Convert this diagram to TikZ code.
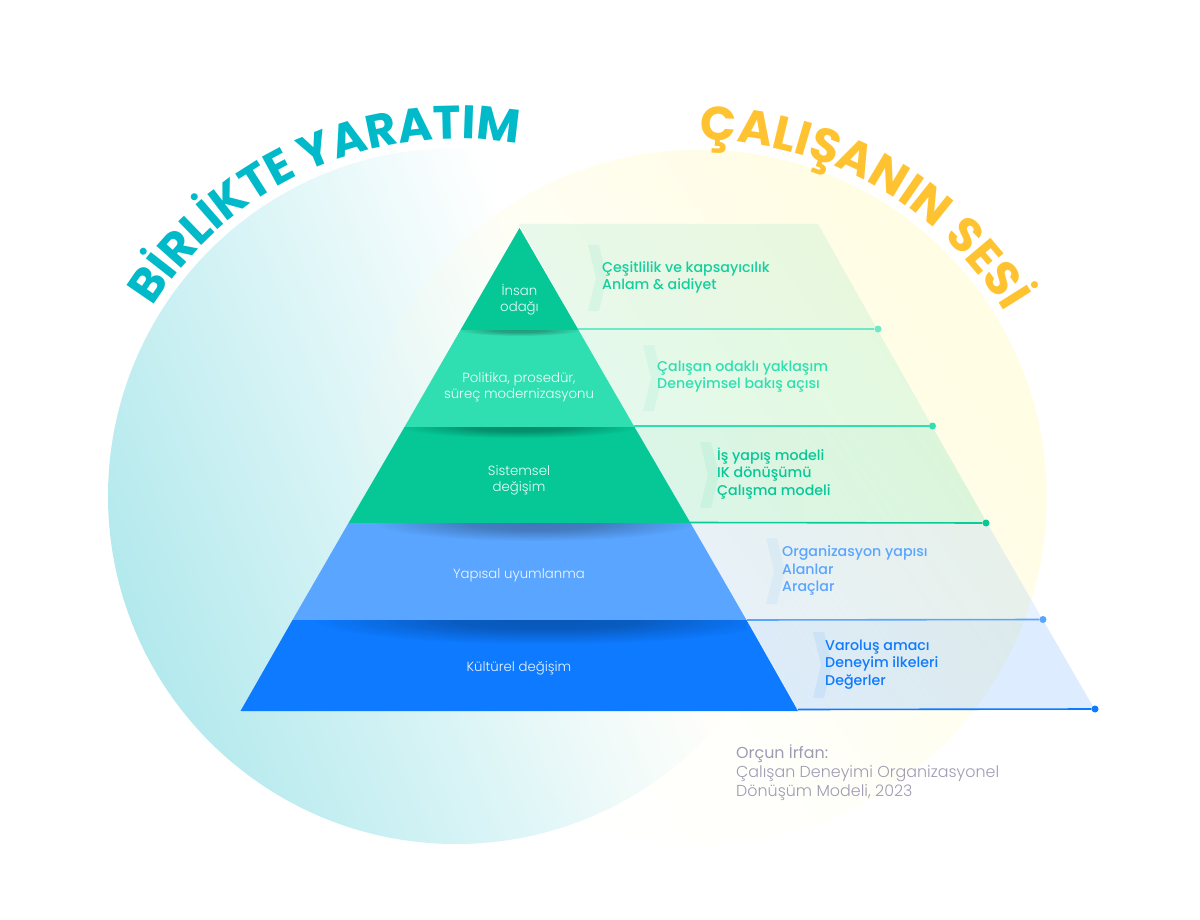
\documentclass[tikz,border=0pt]{standalone}
\usepackage{fontspec}
\setmainfont{Poppins}
\newfontfamily\popl{Poppins Light}
\newfontfamily\popm{Poppins Medium}
\usetikzlibrary{fadings,decorations.text}
\pgfdeclarehorizontalshading{sfade}{100bp}{color(0bp)=(pgftransparent!100);color(25bp)=(pgftransparent!100);color(45bp)=(pgftransparent!82);color(58bp)=(pgftransparent!35);color(70bp)=(pgftransparent!0);color(100bp)=(pgftransparent!0)}
\pgfdeclarefading{sidefadeY}{\pgfuseshading{sfade}}
\pgfdeclareradialshading{shr}{\pgfpointorigin}{color(0bp)=(pgftransparent!0);color(10bp)=(pgftransparent!12);color(25bp)=(pgftransparent!100);color(50bp)=(pgftransparent!100)}
\pgfdeclarefading{shfade}{\pgfuseshading{shr}}
\definecolor{tealC}{HTML}{00BAC9}
\definecolor{tealS}{HTML}{B3E9ED}
\definecolor{yellC}{HTML}{FFC331}
\definecolor{yellS}{HTML}{FFFDE4}
\definecolor{gA}{HTML}{06C896}
\definecolor{gB}{HTML}{30DFB1}
\definecolor{bA}{HTML}{5AA5FF}
\definecolor{bB}{HTML}{0D7AFF}
\definecolor{gL}{HTML}{6EE8C8}
\definecolor{credit}{HTML}{9E9BB3}
\pgfdeclarehorizontalshading{tealfade}{100bp}{color(0bp)=(tealS);color(25bp)=(tealS);color(61bp)=(white);color(100bp)=(white)}
\tikzset{
  x=1pt,y=-1pt,
  chev/.style={fill opacity=.08},
  lvl/.style={font=\popl\fontsize{13.3}{16}\selectfont,text=white,align=center,inner sep=0,text opacity=.92},
  info/.style={font=\popm\fontsize{14.2}{17.2}\selectfont,align=left,anchor=west,inner sep=0},
  credittxt/.style={font=\popl\fontsize{15.9}{19}\selectfont,text=credit,align=left,anchor=north west,inner sep=0},
  conn/.style={line width=1.6pt},
  dot/.style={circle,inner sep=0,minimum size=7pt},
  shadow/.style={fill=black,path fading=shfade},
}
\begin{document}
\begin{tikzpicture}
\useasboundingbox (0,0) rectangle (1200,920);
% circles
\shade[shading=tealfade,shading angle=22] (456,496) circle[radius=348];
\fill[yellS,path fading=sidefadeY,fading angle=35] (699,497) circle[radius=348];
% right side bands
\fill[gA,fill opacity=.09] (519,224) -- (818,224) -- (877,329) -- (578,329) -- cycle;
\fill[gB,fill opacity=.13] (578,329) -- (877,329) -- (932,426) -- (634,426) -- cycle;
\fill[gA,fill opacity=.14] (634,426) -- (932,426) -- (987,523) -- (690,523) -- cycle;
\fill[bA,fill opacity=.14] (690,523) -- (987,523) -- (1043,620) -- (747,620) -- cycle;
\fill[bB,fill opacity=.14] (747,620) -- (1043,620) -- (1095,710) -- (798,710) -- cycle;
% chevrons
\def\chevron#1#2#3{\fill[#3,chev] (#1,#2) -- ++(11,0) -- ++(8,33) -- ++(-8,33) -- ++(-11,0) -- ++(8,-33) -- cycle;}
\chevron{588}{245}{gA}
\chevron{643}{345}{gB}
\chevron{700}{442}{gA}
\chevron{766}{538}{bA}
\chevron{813}{632}{bB}
% pyramid
\fill[gA] (519.5,228) -- (578.5,330) -- (460.5,330) -- cycle;
\fill[gB] (460.5,330) -- (578.5,330) -- (634.5,427) -- (404.5,427) -- cycle;
\fill[gA] (404.5,427) -- (634.5,427) -- (690.5,523) -- (348.5,523) -- cycle;
\fill[bA] (348.5,523) -- (690.5,523) -- (746.5,620) -- (292.5,620) -- cycle;
\fill[bB] (292.5,620) -- (746.5,620) -- (798,711) -- (240.5,711) -- cycle;
% shadows under the steps
\begin{scope}\clip (460.5,330) rectangle (578.5,345);
\fill[shadow,fill opacity=.3] (519.5,330) ellipse[x radius=62,y radius=6];\end{scope}
\begin{scope}\clip (404.5,427) rectangle (634.5,445);
\fill[shadow,fill opacity=.3] (519.5,427) ellipse[x radius=118,y radius=11];\end{scope}
\begin{scope}\clip (348.5,523) rectangle (690.5,550);
\fill[shadow,fill opacity=.28] (535,523) ellipse[x radius=160,y radius=18];\end{scope}
\begin{scope}\clip (292.5,620) rectangle (746.5,650);
\fill[shadow,fill opacity=.28] (545,620) ellipse[x radius=230,y radius=24];\end{scope}
% connectors
\coordinate (s1) at (578,329); \node[dot,fill=gL] (d1) at (878,329) {};
\coordinate (s2) at (634,426); \node[dot,fill=gB] (d2) at (932.5,426) {};
\coordinate (s3) at (690,522.5); \node[dot,fill=gA] (d3) at (986,523) {};
\coordinate (s4) at (747,620); \node[dot,fill=bA] (d4) at (1043,619.5) {};
\coordinate (s5) at (798,709.5); \node[dot,fill=bB] (d5) at (1095,709) {};
\draw[conn,gL] (s1) -- (d1);
\draw[conn,gB] (s2) -- (d2);
\draw[conn,gA!85!gB] (s3) -- (d3);
\draw[conn,bA] (s4) -- (d4);
\draw[conn,bB] (s5) -- (d5);
% level labels
\node[lvl] (l1) at (519.5,299.5) {İnsan\\odağı};
\node[lvl] (l2) at (519,387) {Politika, prosedür,\\süreç modernizasyonu};
\node[lvl] (l3) at (519,480) {Sistemsel\\değişim};
\node[lvl] (l4) at (519,575.5) {Yapısal uyumlanma};
\node[lvl] (l5) at (519,668.5) {Kültürel değişim};
% info labels
\node[info,text=gA!70!gB] (i1) at (602,277) {Çeşitlilik ve kapsayıcılık\\Anlam \& aidiyet};
\node[info,text=gB] (i2) at (657,376.5) {Çalışan odaklı yaklaşım\\Deneyimsel bakış açısı};
\node[info,text=gA] (i3) at (717,473.5) {İş yapış modeli\\IK dönüşümü\\Çalışma modeli};
\node[info,text=bA] (i4) at (782,570.5) {Organizasyon yapısı\\Alanlar\\Araçlar};
\node[info,text=bB] (i5) at (825,664.5) {Varoluş amacı\\Deneyim ilkeleri\\Değerler};
% credit
\node[credittxt] (c) at (736,745) {{\fontspec{Poppins}Orçun İrfan:}\\Çalışan Deneyimi Organizasyonel\\Dönüşüm Modeli, 2023};
% curved titles
\path[postaction={decorate,decoration={text along path,text align=center,
  text={|\bfseries\fontsize{47}{47}\selectfont\color{tealC}|BİRLİKTE YARATIM}}}]
  (456,496) ++(-151:357) arc[start angle=-151,end angle=-77,radius=357];
\path[postaction={decorate,decoration={text along path,text align=center,
  text={|\bfseries\fontsize{47.5}{48}\selectfont\color{yellC}|ÇALIŞANIN SESİ}}}]
  (699,497) ++(-93:357) arc[start angle=-93,end angle=-28,radius=357];
\end{tikzpicture}
\end{document}
